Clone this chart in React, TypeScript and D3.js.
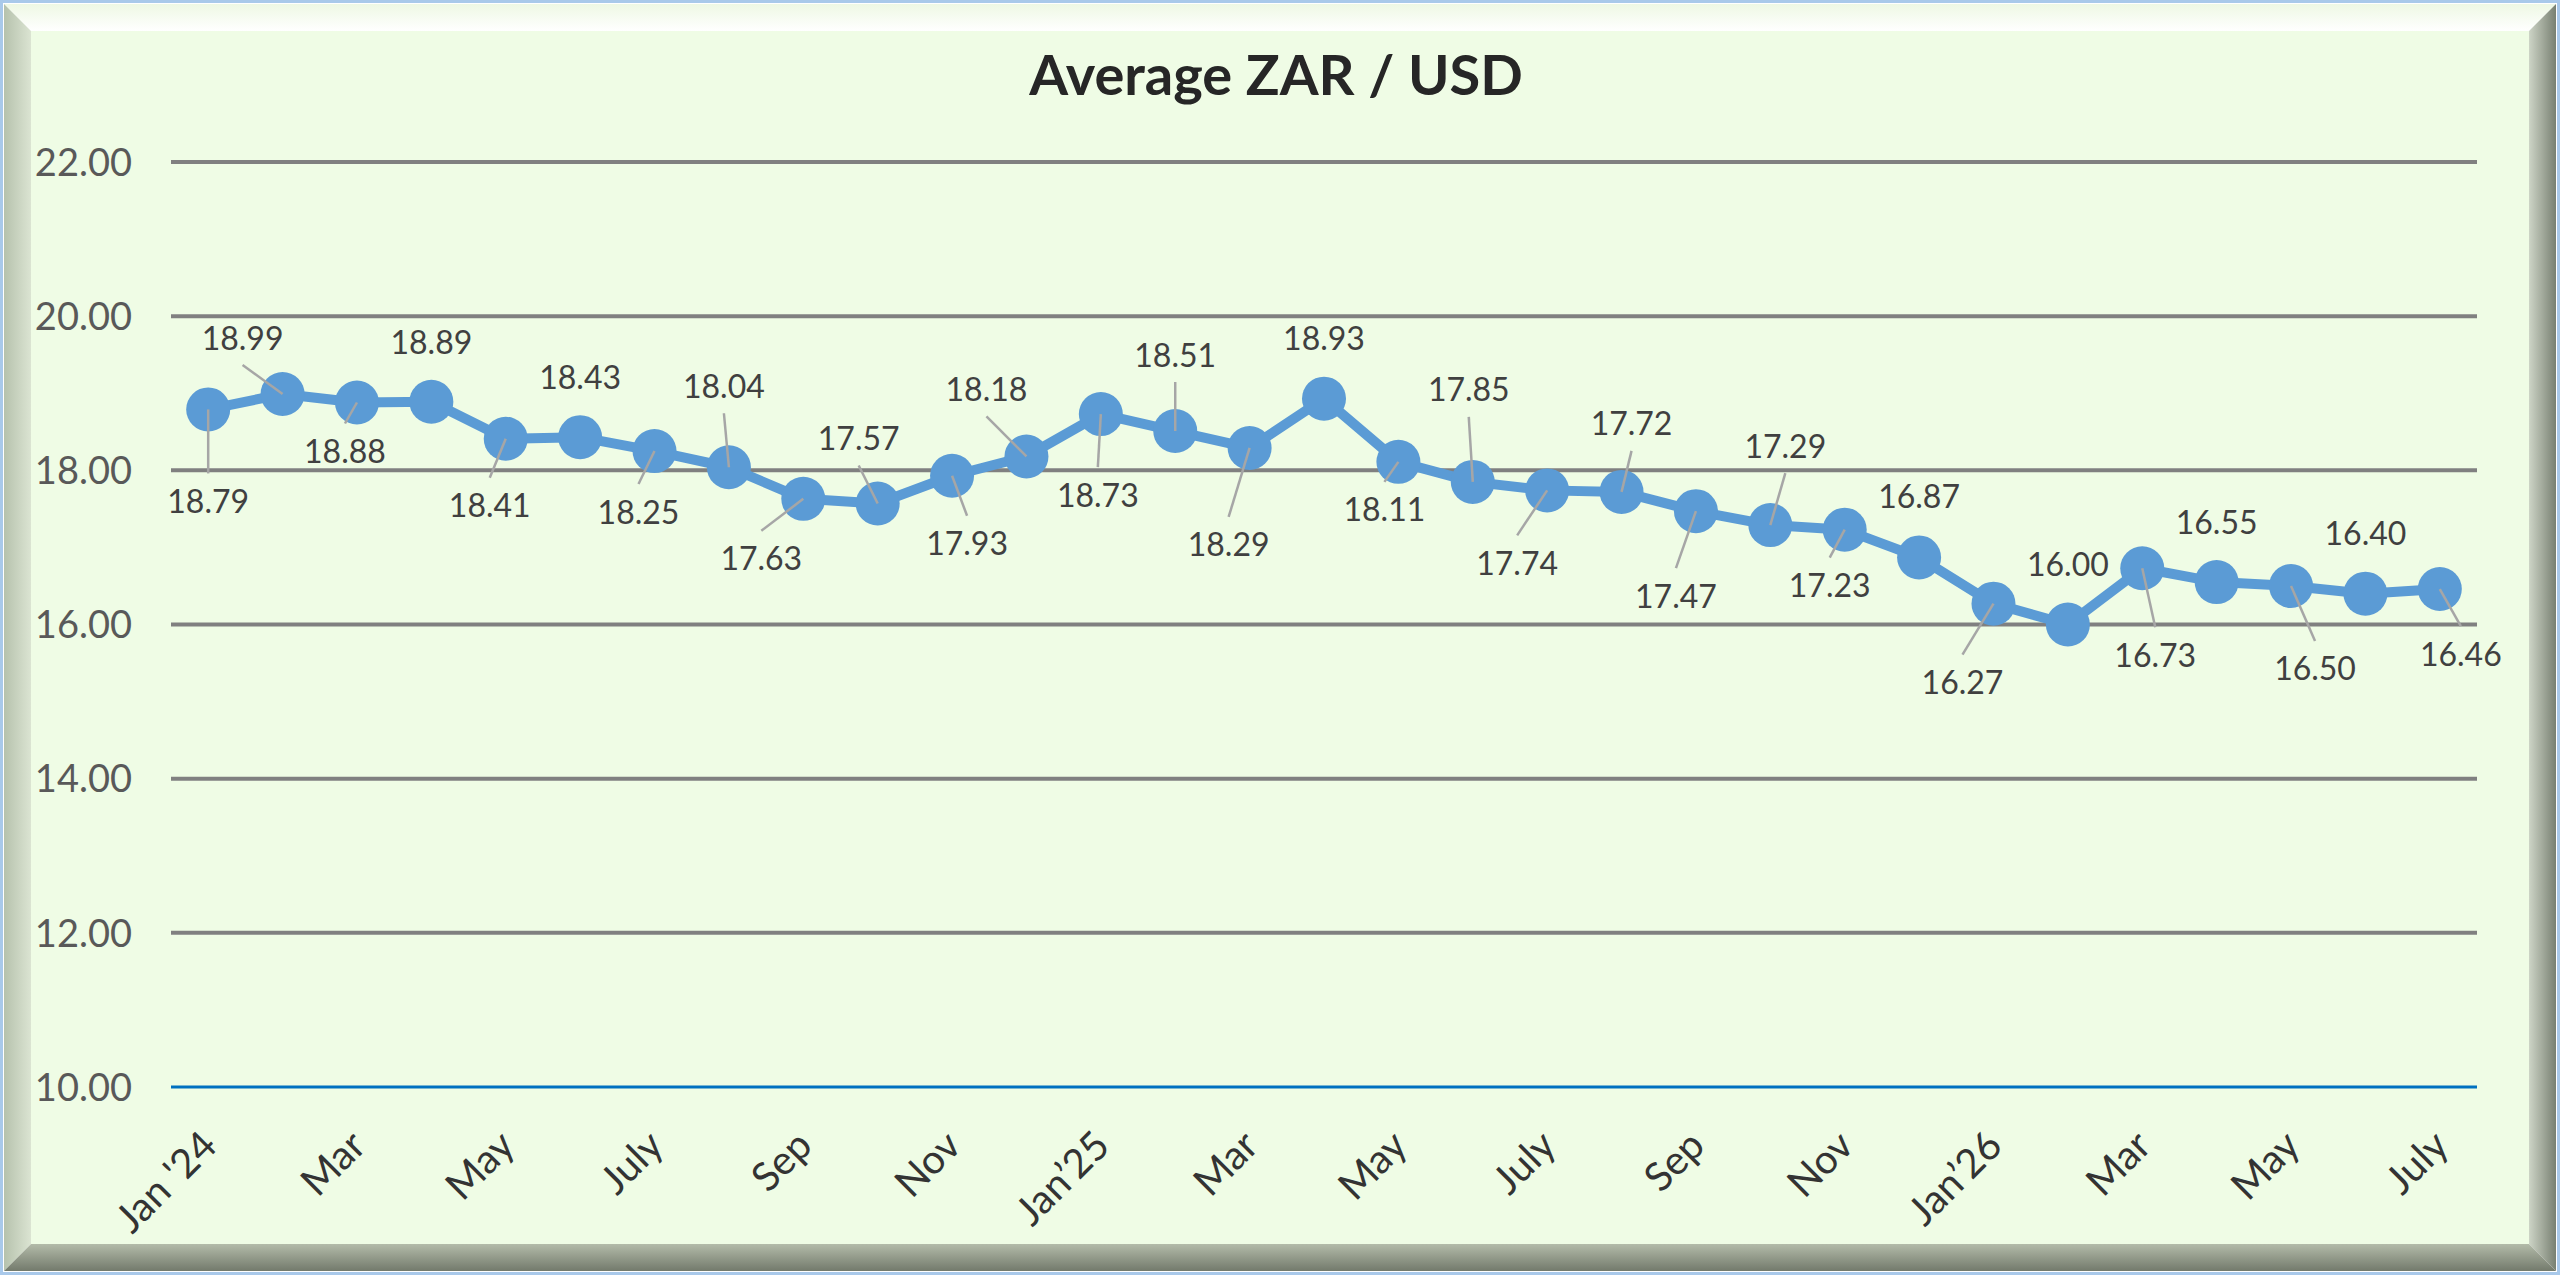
import { useEffect, useRef } from 'react';
import * as d3 from 'd3';

// monthly average rand per dollar, Jan 2024 - Jul 2026
const months = [
  "Jan '24", 'Feb', 'Mar', 'Apr', 'May', 'Jun', 'July', 'Aug', 'Sep', 'Oct', 'Nov', 'Dec',
  'Jan\u201925', 'Feb', 'Mar', 'Apr', 'May', 'Jun', 'July', 'Aug', 'Sep', 'Oct', 'Nov', 'Dec',
  'Jan\u201926', 'Feb', 'Mar', 'Apr', 'May', 'Jun', 'July',
];

const rates = [
  18.79, 18.99, 18.88, 18.89, 18.41, 18.43, 18.25, 18.04, 17.63, 17.57, 17.93, 18.18,
  18.73, 18.51, 18.29, 18.93, 18.11, 17.85, 17.74, 17.72, 17.47, 17.29, 17.23, 16.87,
  16.27, 16.0, 16.73, 16.55, 16.5, 16.4, 16.46,
];

const yTicks = [10, 12, 14, 16, 18, 20, 22];

// where each data label was dragged to, relative to its point
const labelOffsets = [
  [0, 92], [-40, -56], [-12, 49], [0, -59], [-16, 67], [0, -60], [-16, 61], [-5, -81],
  [-42, 60], [-19, -65], [15, 68], [-40, -67], [-3, 81], [0, -76], [-21, 97], [0, -60],
  [-14, 48], [-4, -92], [-30, 73], [10, -68], [-20, 85], [15, -79], [-15, 56], [0, -61],
  [-31, 79], [0, -60], [13, 87], [0, -60], [24, 83], [0, -60], [21, 65],
];

const W = 2560, H = 1275;
const FONT = 'Lato, "Open Sans", sans-serif';

export default function App() {
  const ref = useRef<SVGSVGElement>(null);

  useEffect(() => {
    document.body.style.margin = '0';
    const svg = d3.select(ref.current);
    svg.selectAll('*').remove();

    const defs = svg.append('defs');
    const grad = (id, x2, y2, c1, c2) => {
      const g = defs.append('linearGradient').attr('id', id)
        .attr('x1', 0).attr('y1', 0).attr('x2', x2).attr('y2', y2);
      g.append('stop').attr('offset', 0).attr('stop-color', c1);
      g.append('stop').attr('offset', 1).attr('stop-color', c2);
    };
    grad('bvTop', 0, 1, '#eef8e4', '#ffffff');
    grad('bvLeft', 1, 0, '#b6c2ad', '#dbe4d2');
    grad('bvRight', 1, 0, '#cdd4c6', '#788072');
    grad('bvBottom', 0, 1, '#b3bba9', '#737a6c');

    // bevelled frame
    const o = 4, b = 27;
    const i0 = o + b;
    const xr = W - o, yb = H - o;
    svg.append('rect').attr('x', 1.5).attr('y', 1.5).attr('width', W - 3).attr('height', H - 3)
      .attr('fill', 'none').attr('stroke', '#a9c9ea').attr('stroke-width', 3);
    const poly = (pts, fill) => svg.append('polygon').attr('points', pts.map(p => p.join(',')).join(' ')).attr('fill', fill);
    poly([[o, o], [xr, o], [xr - b, i0], [i0, i0]], 'url(#bvTop)');
    poly([[o, o], [i0, i0], [i0, yb - b], [o, yb]], 'url(#bvLeft)');
    poly([[xr, o], [xr, yb], [xr - b, yb - b], [xr - b, i0]], 'url(#bvRight)');
    poly([[o, yb], [i0, yb - b], [xr - b, yb - b], [xr, yb]], 'url(#bvBottom)');
    svg.append('rect').attr('x', i0).attr('y', i0).attr('width', xr - b - i0).attr('height', yb - b - i0)
      .attr('fill', '#effce5');

    // title
    svg.append('text').attr('x', 1276).attr('y', 95).attr('text-anchor', 'middle')
      .attr('font-family', FONT).attr('font-weight', 700).attr('font-size', 56)
      .attr('fill', '#262626').text('Average ZAR / USD');

    const x = d3.scalePoint<number>().domain(d3.range(months.length)).range([171, 2477]).padding(0.5);
    const y = d3.scaleLinear().domain([10, 22]).range([1087, 162]);

    // gridlines + y labels
    svg.append('g').selectAll('line').data(yTicks.filter(t => t > 10)).enter().append('line')
      .attr('x1', 171).attr('x2', 2477).attr('y1', d => y(d)).attr('y2', d => y(d))
      .attr('stroke', '#808080').attr('stroke-width', 4);
    svg.append('line').attr('x1', 171).attr('x2', 2477).attr('y1', y(10)).attr('y2', y(10))
      .attr('stroke', '#0070c0').attr('stroke-width', 3);
    svg.append('g').selectAll('text').data(yTicks).enter().append('text')
      .attr('x', 132).attr('y', d => y(d)).attr('dy', '0.36em').attr('text-anchor', 'end')
      .attr('font-family', FONT).attr('font-size', 38).attr('fill', '#595959')
      .text(d => d3.format('.2f')(d));

    // x labels, every second month
    svg.append('g').selectAll('text').data(months.map((m, i) => ({ m, i })).filter(d => d.i % 2 === 0))
      .enter().append('text')
      .attr('transform', d => `translate(${x(d.i) + 11},${1148}) rotate(-45)`)
      .attr('text-anchor', 'end').attr('font-family', FONT).attr('font-size', 40).attr('fill', '#333333')
      .text(d => d.m);

    // series
    const line = d3.line<number>().x((d, i) => x(i)).y(d => y(d));
    svg.append('path').datum(rates).attr('d', line).attr('fill', 'none')
      .attr('stroke', '#5b9bd5').attr('stroke-width', 10).attr('stroke-linejoin', 'round');
    svg.append('g').selectAll('circle').data(rates).enter().append('circle')
      .attr('cx', (d, i) => x(i)).attr('cy', d => y(d)).attr('r', 22).attr('fill', '#5b9bd5');

    // leader lines for moved labels
    const moved = labelOffsets.map(([dx, dy]) => Math.hypot(dx, dy + 60) > 4);
    svg.append('g').selectAll('line').data(rates.map((v, i) => i).filter(i => moved[i])).enter().append('line')
      .attr('x1', i => x(i)).attr('y1', i => y(rates[i]))
      .attr('x2', i => x(i) + labelOffsets[i][0])
      .attr('y2', i => y(rates[i]) + labelOffsets[i][1] + (labelOffsets[i][1] < 0 ? 27 : -28))
      .attr('stroke', '#a6a6a6').attr('stroke-width', 2.5);

    svg.append('g').selectAll('text').data(rates).enter().append('text')
      .attr('x', (d, i) => x(i) + labelOffsets[i][0])
      .attr('y', (d, i) => y(d) + labelOffsets[i][1])
      .attr('dy', '0.36em').attr('text-anchor', 'middle')
      .attr('font-family', FONT).attr('font-size', 32).attr('fill', '#404040')
      .text(d => d3.format('.2f')(d));
  }, []);

  return <svg ref={ref} width={W} height={H} style={{ display: 'block' }} />;
}
